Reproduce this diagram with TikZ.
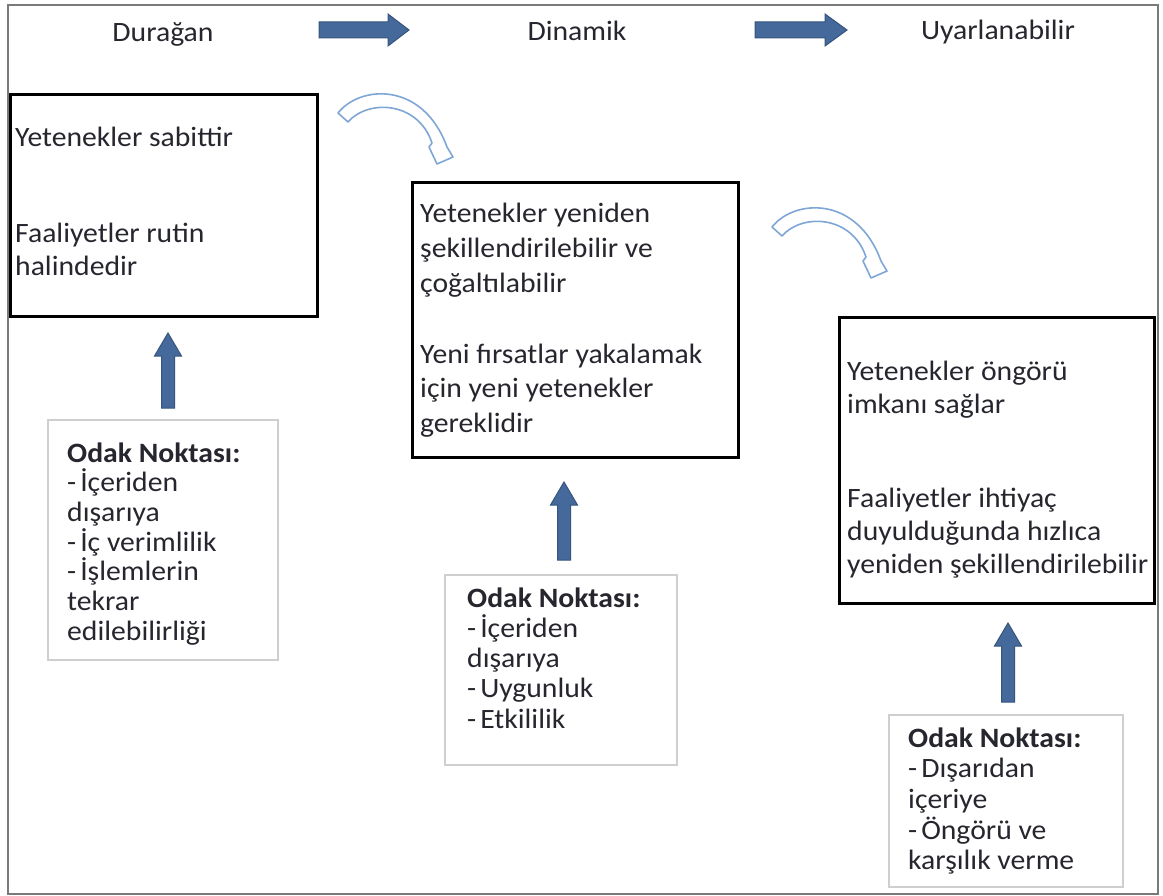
\documentclass[tikz,border=0pt]{standalone}
\usepackage{fontspec}
\setmainfont{Carlito}[FakeStretch=1.06]
\usetikzlibrary{calc}
\definecolor{framegray}{HTML}{7A7A7A}
\definecolor{ink}{HTML}{26262E}
\definecolor{blockfill}{HTML}{44699A}
\definecolor{blockedge}{HTML}{36547D}
\definecolor{curveblue}{HTML}{7EA6D6}
\definecolor{softgray}{HTML}{CFCFCF}

% straight block arrows: centre line, tip, head base, tail
\newcommand\upblock[4]{%
  \filldraw[blockarrow] ({#1-6.5},#4) -- ({#1-6.5},#3) -- ({#1-13.5},#3) -- (#1,#2)
    -- ({#1+13.5},#3) -- ({#1+6.5},#3) -- ({#1+6.5},#4) -- cycle;}
\newcommand\rightblock[4]{%
  \filldraw[blockarrow] (#4,{#1-8}) -- (#3,{#1-8}) -- (#3,{#1-16}) -- (#2,#1)
    -- (#3,{#1+16}) -- (#3,{#1+8}) -- (#4,{#1+8}) -- cycle;}
\newcommand\dsh{-\kern4pt}

\begin{document}
\begin{tikzpicture}[x=1pt,y=-1pt,
  txt/.style={anchor=base west, inner sep=0pt, text=ink,
    font=\fontsize{28}{34}\selectfont},
  head/.style={anchor=base, inner sep=0pt, text=ink,
    font=\fontsize{28}{34}\selectfont},
  mainbox/.style={draw=black, line width=3pt},
  focusbox/.style={draw=softgray, line width=1.5pt},
  blockarrow/.style={fill=blockfill, draw=blockedge, line width=1pt, line join=miter},
  bend arrow/.pic={
    \draw[curveblue, line width=1.6pt, fill=white, line join=round]
      (0,0) .. controls (22,-28) and (85,-32) .. (109,34)
      -- (115,44) -- (99,51) -- (91,34) -- (94,30)
      .. controls (80,-12) and (30,-14) .. (10,9) -- cycle;
  }]
\useasboundingbox (0,0) rectangle (1163,896);
\fill[white] (0,0) rectangle (1163,896);

% outer frame
\draw[framegray, line width=2.5pt] (8,5) rectangle (1158,894);

% stage headings
\node[head] (stage1) at (163,42) {Durağan};
\node[head] (stage2) at (577,41) {Dinamik};
\node[head] (stage3) at (998,40) {Uyarlanabilir};
\rightblock{30}{409}{388}{319}
\rightblock{30}{847}{825}{755}

% capability boxes
\draw[mainbox] (10,95) rectangle (317,317);
\node[txt] (b1a) at (15,147) {Yetenekler sabittir};
\node[txt] (b1b) at (15,243) {Faaliyetler rutin};
\node[txt] (b1c) at (15,276) {halindedir};

\draw[mainbox] (412,183) rectangle (738,457);
\foreach \t [count=\i] in {Yetenekler yeniden, şekillendirilebilir ve, çoğaltılabilir}
  \node[txt] (b2a\i) at (420,{223+(\i-1)*35}) {\t};
\foreach \t [count=\i] in {Yeni fırsatlar yakalamak, için yeni yetenekler, gereklidir}
  \node[txt] (b2b\i) at (420,{363+(\i-1)*34.5}) {\t};

\draw[mainbox] (839,318) rectangle (1154,603);
\foreach \t [count=\i] in {Yetenekler öngörü, imkanı sağlar}
  \node[txt] (b3a\i) at (847,{380+(\i-1)*33}) {\t};
\foreach \t [count=\i] in {Faaliyetler ihtiyaç, duyulduğunda hızlıca, yeniden şekillendirilebilir}
  \node[txt] (b3b\i) at (847,{507+(\i-1)*33}) {\t};

% transitions between the boxes
\pic at (338,113) {bend arrow};
\pic at (772,227) {bend arrow};

% focus boxes
\draw[focusbox] (48,420) rectangle (278,660);
\node[txt, font=\fontsize{28}{34}\selectfont\bfseries] (f1h) at (67,462) {Odak Noktası:};
\foreach \t [count=\i] in {\dsh İçeriden, dışarıya, \dsh İç verimlilik, \dsh İşlemlerin, tekrar, edilebilirliği}
  \node[txt] (f1l\i) at (67,{462+\i*29.7}) {\t};

\draw[focusbox] (445,575) rectangle (677,765);
\node[txt, font=\fontsize{28}{34}\selectfont\bfseries] (f2h) at (467,607) {Odak Noktası:};
\foreach \t [count=\i] in {\dsh İçeriden, dışarıya, \dsh Uygunluk, \dsh Etkililik}
  \node[txt] (f2l\i) at (467,{607+\i*30.3}) {\t};

\draw[focusbox] (889,715) rectangle (1123,887);
\node[txt, font=\fontsize{28}{34}\selectfont\bfseries] (f3h) at (908,747) {Odak Noktası:};
\foreach \t [count=\i] in {\dsh Dışarıdan, içeriye, \dsh Öngörü ve, karşılık verme}
  \node[txt] (f3l\i) at (908,{747+\i*30.7}) {\t};

% focus feeds each stage
\upblock{168}{333}{356}{408}
\upblock{564}{482}{505}{560}
\upblock{1008}{623}{646}{702}
\end{tikzpicture}
\end{document}
